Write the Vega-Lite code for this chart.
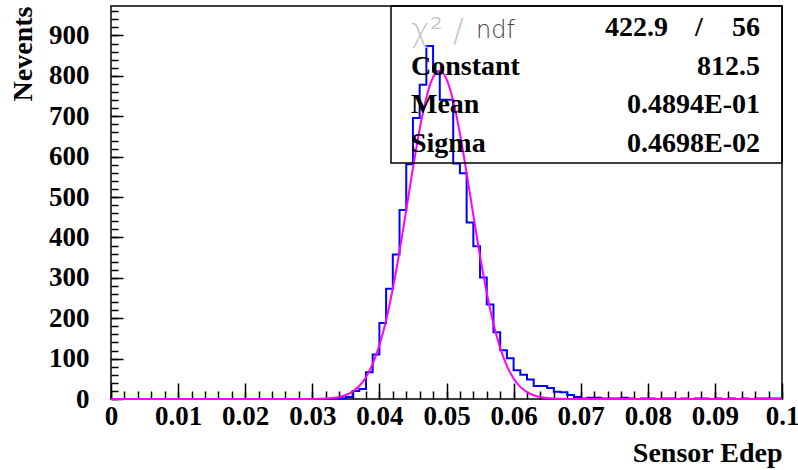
{
  "$schema": "https://vega.github.io/schema/vega-lite/v6.json",
  "width": 671,
  "height": 393,
  "autosize": {"type": "none"},
  "padding": {"left": 111, "top": 6, "right": 16, "bottom": 71},
  "background": "white",
  "config": {
    "view": {"stroke": "black", "strokeWidth": 1.5},
    "font": "Liberation Serif"
  },
  "datasets": {
    "hist": [
      {"x": 0.000, "n": 0}, {"x": 0.001, "n": 0}, {"x": 0.002, "n": 0}, {"x": 0.003, "n": 0}, {"x": 0.004, "n": 0},
      {"x": 0.005, "n": 0}, {"x": 0.006, "n": 0}, {"x": 0.007, "n": 0}, {"x": 0.008, "n": 0}, {"x": 0.009, "n": 0},
      {"x": 0.010, "n": 0}, {"x": 0.011, "n": 0}, {"x": 0.012, "n": 0}, {"x": 0.013, "n": 0}, {"x": 0.014, "n": 0},
      {"x": 0.015, "n": 0}, {"x": 0.016, "n": 0}, {"x": 0.017, "n": 0}, {"x": 0.018, "n": 0}, {"x": 0.019, "n": 0},
      {"x": 0.020, "n": 0}, {"x": 0.021, "n": 0}, {"x": 0.022, "n": 0}, {"x": 0.023, "n": 0}, {"x": 0.024, "n": 0},
      {"x": 0.025, "n": 0}, {"x": 0.026, "n": 0}, {"x": 0.027, "n": 0}, {"x": 0.028, "n": 0}, {"x": 0.029, "n": 0},
      {"x": 0.030, "n": 0}, {"x": 0.031, "n": 0}, {"x": 0.032, "n": 0}, {"x": 0.033, "n": 1}, {"x": 0.034, "n": 2},
      {"x": 0.035, "n": 5}, {"x": 0.036, "n": 20}, {"x": 0.037, "n": 25}, {"x": 0.038, "n": 66}, {"x": 0.039, "n": 110},
      {"x": 0.040, "n": 188}, {"x": 0.041, "n": 273}, {"x": 0.042, "n": 358}, {"x": 0.043, "n": 468}, {"x": 0.044, "n": 581},
      {"x": 0.045, "n": 696}, {"x": 0.046, "n": 778}, {"x": 0.047, "n": 874}, {"x": 0.048, "n": 811}, {"x": 0.049, "n": 741},
      {"x": 0.050, "n": 741}, {"x": 0.051, "n": 583}, {"x": 0.052, "n": 559}, {"x": 0.053, "n": 437}, {"x": 0.054, "n": 378},
      {"x": 0.055, "n": 301}, {"x": 0.056, "n": 234}, {"x": 0.057, "n": 165}, {"x": 0.058, "n": 121}, {"x": 0.059, "n": 101},
      {"x": 0.060, "n": 71}, {"x": 0.061, "n": 60}, {"x": 0.062, "n": 48}, {"x": 0.063, "n": 32}, {"x": 0.064, "n": 32},
      {"x": 0.065, "n": 27}, {"x": 0.066, "n": 18}, {"x": 0.067, "n": 17}, {"x": 0.068, "n": 10}, {"x": 0.069, "n": 5},
      {"x": 0.070, "n": 1}, {"x": 0.071, "n": 3}, {"x": 0.072, "n": 3}, {"x": 0.073, "n": 1}, {"x": 0.074, "n": 1},
      {"x": 0.075, "n": 1}, {"x": 0.076, "n": 3}, {"x": 0.077, "n": 1}, {"x": 0.078, "n": 0}, {"x": 0.079, "n": 1},
      {"x": 0.080, "n": 1}, {"x": 0.081, "n": 0}, {"x": 0.082, "n": 1}, {"x": 0.083, "n": 1}, {"x": 0.084, "n": 0},
      {"x": 0.085, "n": 1}, {"x": 0.086, "n": 0}, {"x": 0.087, "n": 1}, {"x": 0.088, "n": 1}, {"x": 0.089, "n": 0},
      {"x": 0.090, "n": 1}, {"x": 0.091, "n": 0}, {"x": 0.092, "n": 1}, {"x": 0.093, "n": 0}, {"x": 0.094, "n": 1},
      {"x": 0.095, "n": 0}, {"x": 0.096, "n": 1}, {"x": 0.097, "n": 1}, {"x": 0.098, "n": 1}, {"x": 0.099, "n": 1},
      {"x": 0.100, "n": 1}
    ],
    "fit": [
      {"x": 0.000, "y": 0}, {"x": 0.029, "y": 0.1}, {"x": 0.030, "y": 0.24}, {"x": 0.031, "y": 0.55},
      {"x": 0.032, "y": 1.22}, {"x": 0.033, "y": 2.57}, {"x": 0.034, "y": 5.17}, {"x": 0.035, "y": 9.95},
      {"x": 0.036, "y": 18.3}, {"x": 0.037, "y": 32.17}, {"x": 0.038, "y": 53.99}, {"x": 0.039, "y": 86.65},
      {"x": 0.040, "y": 132.9}, {"x": 0.041, "y": 194.8}, {"x": 0.042, "y": 272.9}, {"x": 0.043, "y": 365.4},
      {"x": 0.044, "y": 467.5}, {"x": 0.045, "y": 571.6}, {"x": 0.046, "y": 668.0}, {"x": 0.047, "y": 746.1},
      {"x": 0.048, "y": 796.4}, {"x": 0.049, "y": 812.4}, {"x": 0.050, "y": 792.1}, {"x": 0.051, "y": 738.0},
      {"x": 0.052, "y": 657.2}, {"x": 0.053, "y": 559.3}, {"x": 0.054, "y": 454.9}, {"x": 0.055, "y": 353.6},
      {"x": 0.056, "y": 262.7}, {"x": 0.057, "y": 186.5}, {"x": 0.058, "y": 126.5}, {"x": 0.059, "y": 82.06},
      {"x": 0.060, "y": 50.85}, {"x": 0.061, "y": 30.12}, {"x": 0.062, "y": 17.05}, {"x": 0.063, "y": 9.22},
      {"x": 0.064, "y": 4.77}, {"x": 0.065, "y": 2.36}, {"x": 0.066, "y": 1.11}, {"x": 0.067, "y": 0.5},
      {"x": 0.068, "y": 0.22}, {"x": 0.069, "y": 0.09}, {"x": 0.100, "y": 0}
    ]
  },
  "resolve": {"axis": {"x": "independent", "y": "independent"}},
  "layer": [
    {
      "data": {"name": "hist"},
      "mark": {"type": "line", "interpolate": "step-after", "color": "#0000ff", "strokeWidth": 2},
      "encoding": {
        "x": {
          "field": "x", "type": "quantitative",
          "scale": {"domain": [0, 0.1], "nice": false, "zero": false},
          "axis": {
            "orient": "bottom",
            "values": [0, 0.01, 0.02, 0.03, 0.04, 0.05, 0.06, 0.07, 0.08, 0.09, 0.1],
            "format": "~g", "tickSize": -16, "tickWidth": 1.5, "tickColor": "black",
            "domain": false, "grid": false, "labelOverlap": false, "labelFlush": false, "labelBound": false,
            "labelFont": "Liberation Serif", "labelFontSize": 27, "labelFontWeight": "bold", "labelColor": "black",
            "labelPadding": 20,
            "title": "Sensor Edep", "titleFont": "Liberation Serif", "titleFontSize": 28, "titleFontWeight": "bold",
            "titleColor": "black", "titleAnchor": "end", "titlePadding": 10
          }
        },
        "y": {
          "field": "n", "type": "quantitative",
          "scale": {"domain": [0, 973], "nice": false, "zero": false},
          "axis": {
            "orient": "left",
            "values": [0, 100, 200, 300, 400, 500, 600, 700, 800, 900],
            "tickSize": -12, "tickWidth": 1.5, "tickColor": "black",
            "domain": false, "grid": false, "labelOverlap": false, "labelFlush": false, "labelBound": false,
            "labelFont": "Liberation Serif", "labelFontSize": 27, "labelFontWeight": "bold", "labelColor": "black",
            "labelPadding": 34,
            "title": "Nevents", "titleFont": "Liberation Serif", "titleFontSize": 28, "titleFontWeight": "bold",
            "titleColor": "black", "titleAnchor": "end", "titlePadding": 11
          }
        }
      }
    },
    {
      "data": {"name": "fit"},
      "mark": {"type": "line", "interpolate": "monotone", "color": "#ff00ff", "strokeWidth": 2},
      "encoding": {
        "x": {
          "field": "x", "type": "quantitative",
          "scale": {"domain": [0, 0.1], "nice": false, "zero": false},
          "axis": {
            "orient": "bottom",
            "values": [0, 0.002, 0.004, 0.006, 0.008, 0.01, 0.012, 0.014, 0.016, 0.018, 0.02, 0.022, 0.024, 0.026, 0.028, 0.03, 0.032, 0.034, 0.036, 0.038, 0.04, 0.042, 0.044, 0.046, 0.048, 0.05, 0.052, 0.054, 0.056, 0.058, 0.06, 0.062, 0.064, 0.066, 0.068, 0.07, 0.072, 0.074, 0.076, 0.078, 0.08, 0.082, 0.084, 0.086, 0.088, 0.09, 0.092, 0.094, 0.096, 0.098, 0.1],
            "tickSize": -8, "tickWidth": 1.5, "tickColor": "black",
            "domain": false, "grid": false, "labels": false, "title": null
          }
        },
        "y": {
          "field": "y", "type": "quantitative",
          "scale": {"domain": [0, 973], "nice": false, "zero": false},
          "axis": {
            "orient": "left",
            "values": [0, 20, 40, 60, 80, 100, 120, 140, 160, 180, 200, 220, 240, 260, 280, 300, 320, 340, 360, 380, 400, 420, 440, 460, 480, 500, 520, 540, 560, 580, 600, 620, 640, 660, 680, 700, 720, 740, 760, 780, 800, 820, 840, 860, 880, 900, 920, 940, 960],
            "tickSize": -7, "tickWidth": 1.5, "tickColor": "black",
            "domain": false, "grid": false, "labels": false, "title": null
          }
        }
      }
    },
    {
      "data": {"values": [{"box": "stats"}]},
      "mark": {"type": "rect", "fill": "transparent", "stroke": "black", "strokeWidth": 1.5},
      "encoding": {
        "x": {"datum": 0.04173, "type": "quantitative", "scale": {"domain": [0, 0.1], "nice": false, "zero": false}, "axis": null},
        "x2": {"datum": 0.1},
        "y": {"datum": 584.6, "type": "quantitative", "scale": {"domain": [0, 973], "nice": false, "zero": false}, "axis": null},
        "y2": {"datum": 973}
      }
    },
    {
      "data": {"values": [{"t": "χ² /"}]},
      "mark": {"type": "text", "align": "left", "baseline": "middle", "font": "DejaVu Sans", "fontSize": 32, "fontWeight": 300, "color": "#c4c4c4"},
      "encoding": {
        "text": {"field": "t"},
        "x": {"datum": 0.04471, "type": "quantitative", "scale": {"domain": [0, 0.1], "nice": false, "zero": false}, "axis": null},
        "y": {"datum": 912, "type": "quantitative", "scale": {"domain": [0, 973], "nice": false, "zero": false}, "axis": null}
      }
    },
    {
      "data": {"values": [{"t": "ndf"}]},
      "mark": {"type": "text", "align": "left", "baseline": "middle", "font": "DejaVu Sans", "fontSize": 24, "fontWeight": 300, "color": "#444444"},
      "encoding": {
        "text": {"field": "t"},
        "x": {"datum": 0.05440, "type": "quantitative", "scale": {"domain": [0, 0.1], "nice": false, "zero": false}, "axis": null},
        "y": {"datum": 912, "type": "quantitative", "scale": {"domain": [0, 973], "nice": false, "zero": false}, "axis": null}
      }
    },
    {
      "data": {"values": [{"t": "422.9"}]},
      "mark": {"type": "text", "align": "right", "baseline": "middle", "font": "Liberation Serif", "fontSize": 28, "fontWeight": "bold", "color": "black"},
      "encoding": {
        "text": {"field": "t"},
        "x": {"datum": 0.08301, "type": "quantitative", "scale": {"domain": [0, 0.1], "nice": false, "zero": false}, "axis": null},
        "y": {"datum": 917.8, "type": "quantitative", "scale": {"domain": [0, 973], "nice": false, "zero": false}, "axis": null}
      }
    },
    {
      "data": {"values": [{"t": "/"}]},
      "mark": {"type": "text", "align": "center", "baseline": "middle", "font": "Liberation Serif", "fontSize": 28, "fontWeight": "bold", "color": "black"},
      "encoding": {
        "text": {"field": "t"},
        "x": {"datum": 0.08763, "type": "quantitative", "scale": {"domain": [0, 0.1], "nice": false, "zero": false}, "axis": null},
        "y": {"datum": 917.8, "type": "quantitative", "scale": {"domain": [0, 973], "nice": false, "zero": false}, "axis": null}
      }
    },
    {
      "data": {"values": [{"t": "56"}]},
      "mark": {"type": "text", "align": "right", "baseline": "middle", "font": "Liberation Serif", "fontSize": 28, "fontWeight": "bold", "color": "black"},
      "encoding": {
        "text": {"field": "t"},
        "x": {"datum": 0.09672, "type": "quantitative", "scale": {"domain": [0, 0.1], "nice": false, "zero": false}, "axis": null},
        "y": {"datum": 917.8, "type": "quantitative", "scale": {"domain": [0, 973], "nice": false, "zero": false}, "axis": null}
      }
    },
    {
      "data": {"values": [{"t": "Constant"}]},
      "mark": {"type": "text", "align": "left", "baseline": "middle", "font": "Liberation Serif", "fontSize": 28, "fontWeight": "bold", "color": "black"},
      "encoding": {
        "text": {"field": "t"},
        "x": {"datum": 0.04471, "type": "quantitative", "scale": {"domain": [0, 0.1], "nice": false, "zero": false}, "axis": null},
        "y": {"datum": 821.2, "type": "quantitative", "scale": {"domain": [0, 973], "nice": false, "zero": false}, "axis": null}
      }
    },
    {
      "data": {"values": [{"t": "812.5"}]},
      "mark": {"type": "text", "align": "right", "baseline": "middle", "font": "Liberation Serif", "fontSize": 28, "fontWeight": "bold", "color": "black"},
      "encoding": {
        "text": {"field": "t"},
        "x": {"datum": 0.09672, "type": "quantitative", "scale": {"domain": [0, 0.1], "nice": false, "zero": false}, "axis": null},
        "y": {"datum": 821.2, "type": "quantitative", "scale": {"domain": [0, 973], "nice": false, "zero": false}, "axis": null}
      }
    },
    {
      "data": {"values": [{"t": "Mean"}]},
      "mark": {"type": "text", "align": "left", "baseline": "middle", "font": "Liberation Serif", "fontSize": 28, "fontWeight": "bold", "color": "black"},
      "encoding": {
        "text": {"field": "t"},
        "x": {"datum": 0.04471, "type": "quantitative", "scale": {"domain": [0, 0.1], "nice": false, "zero": false}, "axis": null},
        "y": {"datum": 727, "type": "quantitative", "scale": {"domain": [0, 973], "nice": false, "zero": false}, "axis": null}
      }
    },
    {
      "data": {"values": [{"t": "0.4894E-01"}]},
      "mark": {"type": "text", "align": "right", "baseline": "middle", "font": "Liberation Serif", "fontSize": 28, "fontWeight": "bold", "color": "black"},
      "encoding": {
        "text": {"field": "t"},
        "x": {"datum": 0.09672, "type": "quantitative", "scale": {"domain": [0, 0.1], "nice": false, "zero": false}, "axis": null},
        "y": {"datum": 727, "type": "quantitative", "scale": {"domain": [0, 973], "nice": false, "zero": false}, "axis": null}
      }
    },
    {
      "data": {"values": [{"t": "Sigma"}]},
      "mark": {"type": "text", "align": "left", "baseline": "middle", "font": "Liberation Serif", "fontSize": 28, "fontWeight": "bold", "color": "black"},
      "encoding": {
        "text": {"field": "t"},
        "x": {"datum": 0.04471, "type": "quantitative", "scale": {"domain": [0, 0.1], "nice": false, "zero": false}, "axis": null},
        "y": {"datum": 631.7, "type": "quantitative", "scale": {"domain": [0, 973], "nice": false, "zero": false}, "axis": null}
      }
    },
    {
      "data": {"values": [{"t": "0.4698E-02"}]},
      "mark": {"type": "text", "align": "right", "baseline": "middle", "font": "Liberation Serif", "fontSize": 28, "fontWeight": "bold", "color": "black"},
      "encoding": {
        "text": {"field": "t"},
        "x": {"datum": 0.09672, "type": "quantitative", "scale": {"domain": [0, 0.1], "nice": false, "zero": false}, "axis": null},
        "y": {"datum": 631.7, "type": "quantitative", "scale": {"domain": [0, 973], "nice": false, "zero": false}, "axis": null}
      }
    }
  ]
}
